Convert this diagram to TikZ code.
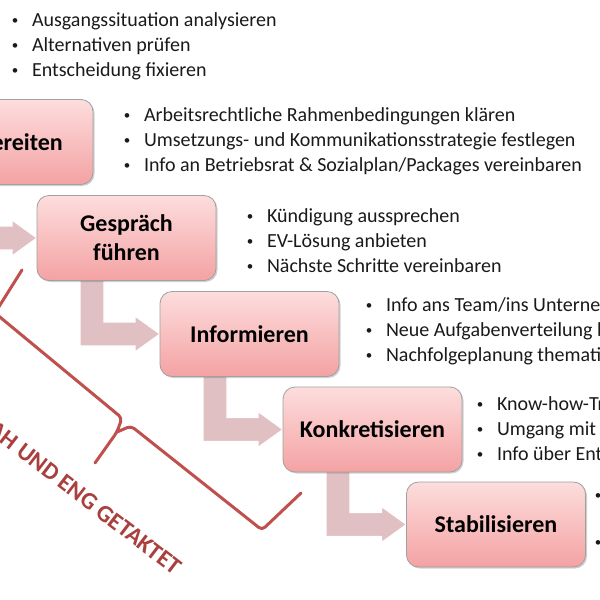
\documentclass[tikz,border=0pt]{standalone}
\usepackage{fontspec}
\setmainfont{Carlito}
\usetikzlibrary{calc,shadows}
\definecolor{boxtop}{HTML}{FDDDDD}
\definecolor{boxbot}{HTML}{F4A2A3}
\definecolor{boxline}{HTML}{A0A0A0}
\definecolor{arrowfill}{HTML}{E0C0C2}
\definecolor{bracered}{HTML}{C0504D}
\definecolor{bracetext}{HTML}{A9403D}
\definecolor{textgray}{HTML}{1A1A1A}
\pgfdeclarelayer{background}
\pgfsetlayers{background,main}
\tikzset{
 stepbox/.style={draw=boxline, line width=0.8pt, rounded corners=12pt, top color=boxtop, bottom color=boxbot,
   minimum width=179pt, minimum height=85pt, inner sep=0pt, outer sep=0pt, align=center,
   font=\fontsize{24}{29}\selectfont\bfseries,
   drop shadow={shadow xshift=1.5pt, shadow yshift=-1.5pt, opacity=0.3, fill=black!60}},
 blist/.style={anchor=base west, inner sep=0pt, outer sep=0pt, font=\fontsize{20}{25}\selectfont, text=textgray},
 bentarrow/.style={fill=arrowfill, draw=white, line width=1.2pt, line join=miter},
 bracestyle/.style={draw=bracered, line width=3pt, rounded corners=4pt, line cap=round, line join=round},
}
\newcommand\bdot{\raisebox{1.5pt}{\fontsize{13}{13}\selectfont\textbullet}}
\newcommand\bitem[1]{\makebox[10pt][c]{\bdot}\hspace{12pt}#1}
\newcommand\barrow[2]{%
  \coordinate (s1) at ($(#1.south west)+(43,-5)$);
  \coordinate (s2) at ($(#1.south west)+(67,-5)$);
  \coordinate (t) at (#2.west);
  \coordinate (tb) at ($(t)+(0,12)$);
  \coordinate (tt) at ($(t)+(0,-12)$);
  \path[bentarrow] (s1) -- (s1 |- tb) -- ($(t)+(-25,12)$) -- ($(t)+(-25,18)$) -- (t)
     -- ($(t)+(-25,-18)$) -- ($(t)+(-25,-12)$) -- (s2 |- tt) -- (s2) -- cycle;
}
\begin{document}
\begin{tikzpicture}[x=1pt,y=-1pt]
\useasboundingbox (0,0) rectangle (600,600);
\clip (0,0) rectangle (600,600);

\node[stepbox] (V) at (3.5,142) {Vorbereiten};
\node[stepbox] (G) at (126.5,238) {Gespräch\\führen};
\node[stepbox] (I) at (249.5,334) {Informieren};
\node[stepbox] (K) at (372.5,429.5) {Konkretisieren};
\node[stepbox] (S) at (496,524.5) {Stabilisieren};

\begin{pgfonlayer}{background}
\fill[white] (0,0) rectangle (600,600);
\barrow{V}{G}
\barrow{G}{I}
\barrow{I}{K}
\barrow{K}{S}
\end{pgfonlayer}

\node[blist] (L0) at (10,26) {\begin{tabular}[t]{@{}l@{}}\bitem{Ausgangssituation analysieren}\\ \bitem{Alternativen prüfen}\\ \bitem{Entscheidung fixieren}\end{tabular}};
\node[blist] (L1) at (122,121) {\begin{tabular}[t]{@{}l@{}}\bitem{Arbeitsrechtliche Rahmenbedingungen klären}\\ \bitem{Umsetzungs- und Kommunikationsstrategie festlegen}\\ \bitem{Info an Betriebsrat \& Sozialplan/Packages vereinbaren}\end{tabular}};
\node[blist] (L2) at (245,222) {\begin{tabular}[t]{@{}l@{}}\bitem{Kündigung aussprechen}\\ \bitem{EV-Lösung anbieten}\\ \bitem{Nächste Schritte vereinbaren}\end{tabular}};
\node[blist] (L3) at (364,311) {\begin{tabular}[t]{@{}l@{}}\bitem{Info ans Team/ins Unternehmen}\\ \bitem{Neue Aufgabenverteilung be}\\ \bitem{Nachfolgeplanung thematisieren}\end{tabular}};
\node[blist] (L4) at (475,410) {\begin{tabular}[t]{@{}l@{}}\bitem{Know-how-Transfer}\\ \bitem{Umgang mit}\\ \bitem{Info über Ent}\end{tabular}};
\node[blist, anchor=center] (B1) at (598,497) {\bdot};
\node[blist, anchor=center] (B2) at (598,544) {\bdot};

\draw[bracestyle] (22,270) -- (-5,313) -- (122,418) -- (117,432) -- (95,463);
\draw[bracestyle] (117,432) -- (131,426) -- (262,530) -- (301,493);
\node[font=\fontsize{24}{28}\selectfont\bfseries, text=bracetext, rotate=-37.5, anchor=east, inner sep=0pt] (tag) at (179,570) {NAH UND ENG GETAKTET};
\end{tikzpicture}
\end{document}
